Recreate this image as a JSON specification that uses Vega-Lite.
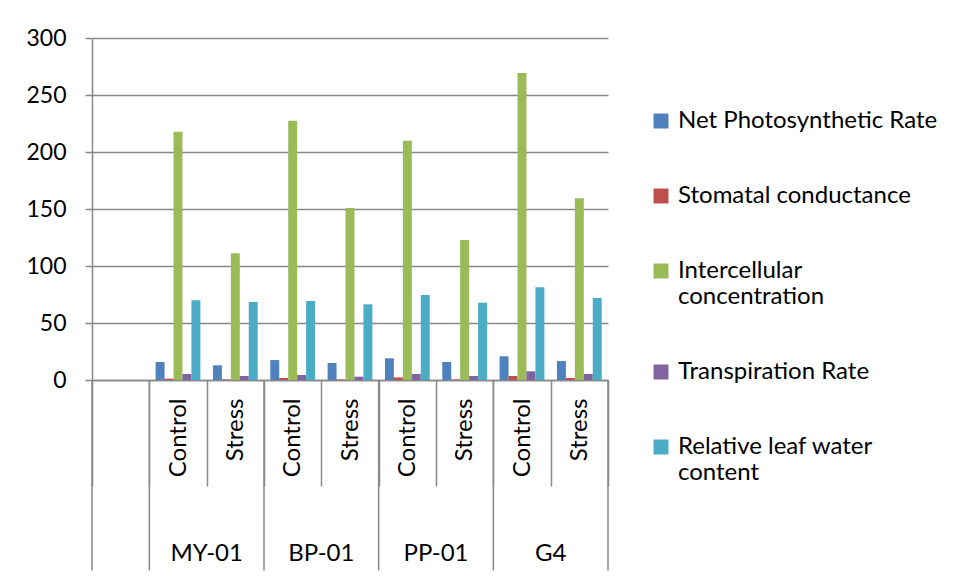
{
  "$schema": "https://vega.github.io/schema/vega-lite/v6.json",
  "width": 516,
  "height": 342,
  "autosize": {"type": "none"},
  "padding": {"left": 92, "top": 38, "right": 350, "bottom": 200},
  "background": "white",
  "config": {"font": "Lato", "view": {"stroke": null}},
  "datasets": {
    "measurements": [
      {"cat": "MY-01 Control", "group": "MY-01", "treatment": "Control", "series": "Net Photosynthetic Rate", "value": 15.8},
      {"cat": "MY-01 Control", "group": "MY-01", "treatment": "Control", "series": "Stomatal conductance", "value": 1.2},
      {"cat": "MY-01 Control", "group": "MY-01", "treatment": "Control", "series": "Intercellular concentration", "value": 217.8},
      {"cat": "MY-01 Control", "group": "MY-01", "treatment": "Control", "series": "Transpiration Rate", "value": 5.3},
      {"cat": "MY-01 Control", "group": "MY-01", "treatment": "Control", "series": "Relative leaf water content", "value": 70},
      {"cat": "MY-01 Stress", "group": "MY-01", "treatment": "Stress", "series": "Net Photosynthetic Rate", "value": 12.9},
      {"cat": "MY-01 Stress", "group": "MY-01", "treatment": "Stress", "series": "Stomatal conductance", "value": 0.5},
      {"cat": "MY-01 Stress", "group": "MY-01", "treatment": "Stress", "series": "Intercellular concentration", "value": 111.1},
      {"cat": "MY-01 Stress", "group": "MY-01", "treatment": "Stress", "series": "Transpiration Rate", "value": 3.5},
      {"cat": "MY-01 Stress", "group": "MY-01", "treatment": "Stress", "series": "Relative leaf water content", "value": 68.4},
      {"cat": "BP-01 Control", "group": "BP-01", "treatment": "Control", "series": "Net Photosynthetic Rate", "value": 17.5},
      {"cat": "BP-01 Control", "group": "BP-01", "treatment": "Control", "series": "Stomatal conductance", "value": 1.8},
      {"cat": "BP-01 Control", "group": "BP-01", "treatment": "Control", "series": "Intercellular concentration", "value": 227.5},
      {"cat": "BP-01 Control", "group": "BP-01", "treatment": "Control", "series": "Transpiration Rate", "value": 4.4},
      {"cat": "BP-01 Control", "group": "BP-01", "treatment": "Control", "series": "Relative leaf water content", "value": 69.3},
      {"cat": "BP-01 Stress", "group": "BP-01", "treatment": "Stress", "series": "Net Photosynthetic Rate", "value": 14.9},
      {"cat": "BP-01 Stress", "group": "BP-01", "treatment": "Stress", "series": "Stomatal conductance", "value": 0.5},
      {"cat": "BP-01 Stress", "group": "BP-01", "treatment": "Stress", "series": "Intercellular concentration", "value": 150.9},
      {"cat": "BP-01 Stress", "group": "BP-01", "treatment": "Stress", "series": "Transpiration Rate", "value": 2.9},
      {"cat": "BP-01 Stress", "group": "BP-01", "treatment": "Stress", "series": "Relative leaf water content", "value": 66.4},
      {"cat": "PP-01 Control", "group": "PP-01", "treatment": "Control", "series": "Net Photosynthetic Rate", "value": 19},
      {"cat": "PP-01 Control", "group": "PP-01", "treatment": "Control", "series": "Stomatal conductance", "value": 2.3},
      {"cat": "PP-01 Control", "group": "PP-01", "treatment": "Control", "series": "Intercellular concentration", "value": 209.9},
      {"cat": "PP-01 Control", "group": "PP-01", "treatment": "Control", "series": "Transpiration Rate", "value": 5.3},
      {"cat": "PP-01 Control", "group": "PP-01", "treatment": "Control", "series": "Relative leaf water content", "value": 74.6},
      {"cat": "PP-01 Stress", "group": "PP-01", "treatment": "Stress", "series": "Net Photosynthetic Rate", "value": 15.8},
      {"cat": "PP-01 Stress", "group": "PP-01", "treatment": "Stress", "series": "Stomatal conductance", "value": 0.5},
      {"cat": "PP-01 Stress", "group": "PP-01", "treatment": "Stress", "series": "Intercellular concentration", "value": 122.8},
      {"cat": "PP-01 Stress", "group": "PP-01", "treatment": "Stress", "series": "Transpiration Rate", "value": 3.5},
      {"cat": "PP-01 Stress", "group": "PP-01", "treatment": "Stress", "series": "Relative leaf water content", "value": 67.8},
      {"cat": "G4 Control", "group": "G4", "treatment": "Control", "series": "Net Photosynthetic Rate", "value": 20.8},
      {"cat": "G4 Control", "group": "G4", "treatment": "Control", "series": "Stomatal conductance", "value": 3.5},
      {"cat": "G4 Control", "group": "G4", "treatment": "Control", "series": "Intercellular concentration", "value": 269.3},
      {"cat": "G4 Control", "group": "G4", "treatment": "Control", "series": "Transpiration Rate", "value": 7.6},
      {"cat": "G4 Control", "group": "G4", "treatment": "Control", "series": "Relative leaf water content", "value": 81.3},
      {"cat": "G4 Stress", "group": "G4", "treatment": "Stress", "series": "Net Photosynthetic Rate", "value": 16.7},
      {"cat": "G4 Stress", "group": "G4", "treatment": "Stress", "series": "Stomatal conductance", "value": 1.8},
      {"cat": "G4 Stress", "group": "G4", "treatment": "Stress", "series": "Intercellular concentration", "value": 159.4},
      {"cat": "G4 Stress", "group": "G4", "treatment": "Stress", "series": "Transpiration Rate", "value": 5.3},
      {"cat": "G4 Stress", "group": "G4", "treatment": "Stress", "series": "Relative leaf water content", "value": 71.9}
    ],
    "groupStarts": [
      {"cat": "blank"},
      {"cat": "MY-01 Control"},
      {"cat": "BP-01 Control"},
      {"cat": "PP-01 Control"},
      {"cat": "G4 Control"}
    ],
    "groupEnds": [
      {"cat": "G4 Stress"}
    ]
  },
  "layer": [
    {
      "data": {"name": "measurements"},
      "mark": {"type": "bar"},
      "encoding": {
        "x": {
          "field": "cat",
          "type": "nominal",
          "scale": {
            "domain": ["blank", "MY-01 Control", "MY-01 Stress", "BP-01 Control", "BP-01 Stress", "PP-01 Control", "PP-01 Stress", "G4 Control", "G4 Stress"],
            "paddingInner": 0,
            "paddingOuter": 0
          },
          "axis": {
            "orient": "bottom",
            "title": null,
            "grid": false,
            "tickBand": "extent",
            "tickSize": 106,
            "tickColor": "#888888",
            "tickWidth": 1.5,
            "domainColor": "#888888",
            "domainWidth": 1.5,
            "labelAngle": 270,
            "labelAlign": "right",
            "labelBaseline": "middle",
            "labelPadding": -88,
            "labelFontSize": 24,
            "labelColor": "black",
            "labelOverlap": false,
            "labelExpr": "indexof('' + datum.value, 'Control') >= 0 ? 'Control' : indexof('' + datum.value, 'Stress') >= 0 ? 'Stress' : ''"
          }
        },
        "xOffset": {
          "field": "series",
          "type": "nominal",
          "sort": ["Net Photosynthetic Rate", "Stomatal conductance", "Intercellular concentration", "Transpiration Rate", "Relative leaf water content"],
          "scale": {"paddingInner": 0, "paddingOuter": 0.7}
        },
        "y": {
          "field": "value",
          "type": "quantitative",
          "scale": {"domain": [0, 300]},
          "axis": {
            "title": null,
            "values": [0, 50, 100, 150, 200, 250, 300],
            "domainColor": "#888888",
            "domainWidth": 1.5,
            "tickColor": "#888888",
            "tickWidth": 1.5,
            "tickSize": 7,
            "labelFontSize": 23,
            "labelColor": "black",
            "labelPadding": 19,
            "grid": true,
            "gridColor": "#888888",
            "gridWidth": 1.5
          }
        },
        "color": {
          "field": "series",
          "type": "nominal",
          "scale": {
            "domain": ["Net Photosynthetic Rate", "Stomatal conductance", "Intercellular concentration", "Transpiration Rate", "Relative leaf water content"],
            "range": ["#4F81BD", "#C0504D", "#9BBB59", "#8064A2", "#4BACC6"]
          },
          "legend": {
            "orient": "none",
            "legendX": 557,
            "legendY": 71,
            "padding": 0,
            "title": null,
            "symbolType": "square",
            "symbolSize": 225,
            "symbolStrokeWidth": 0,
            "labelFontSize": 24,
            "labelColor": "black",
            "labelOffset": 5,
            "labelLimit": 400,
            "rowPadding": 51,
            "labelExpr": "datum.label == 'Intercellular concentration' ? ['Intercellular', 'concentration'] : datum.label == 'Relative leaf water content' ? ['Relative leaf water', 'content'] : datum.label"
          }
        }
      }
    },
    {
      "data": {"name": "groupStarts"},
      "mark": {"type": "rule", "color": "#888888", "strokeWidth": 1.5},
      "encoding": {
        "x": {"field": "cat", "type": "nominal", "bandPosition": 0},
        "y": {"datum": 0},
        "y2": {"datum": -167}
      }
    },
    {
      "data": {"name": "groupEnds"},
      "mark": {"type": "rule", "color": "#888888", "strokeWidth": 1.5},
      "encoding": {
        "x": {"field": "cat", "type": "nominal", "bandPosition": 1},
        "y": {"datum": 0},
        "y2": {"datum": -167}
      }
    },
    {
      "data": {"name": "measurements"},
      "transform": [
        {"filter": "datum.treatment == 'Stress'"},
        {"aggregate": [], "groupby": ["cat", "group"]}
      ],
      "mark": {"type": "text", "fontSize": 24, "color": "black", "baseline": "middle", "align": "center"},
      "encoding": {
        "x": {"field": "cat", "type": "nominal", "bandPosition": 0},
        "y": {"datum": -152.5},
        "text": {"field": "group"}
      }
    }
  ]
}
